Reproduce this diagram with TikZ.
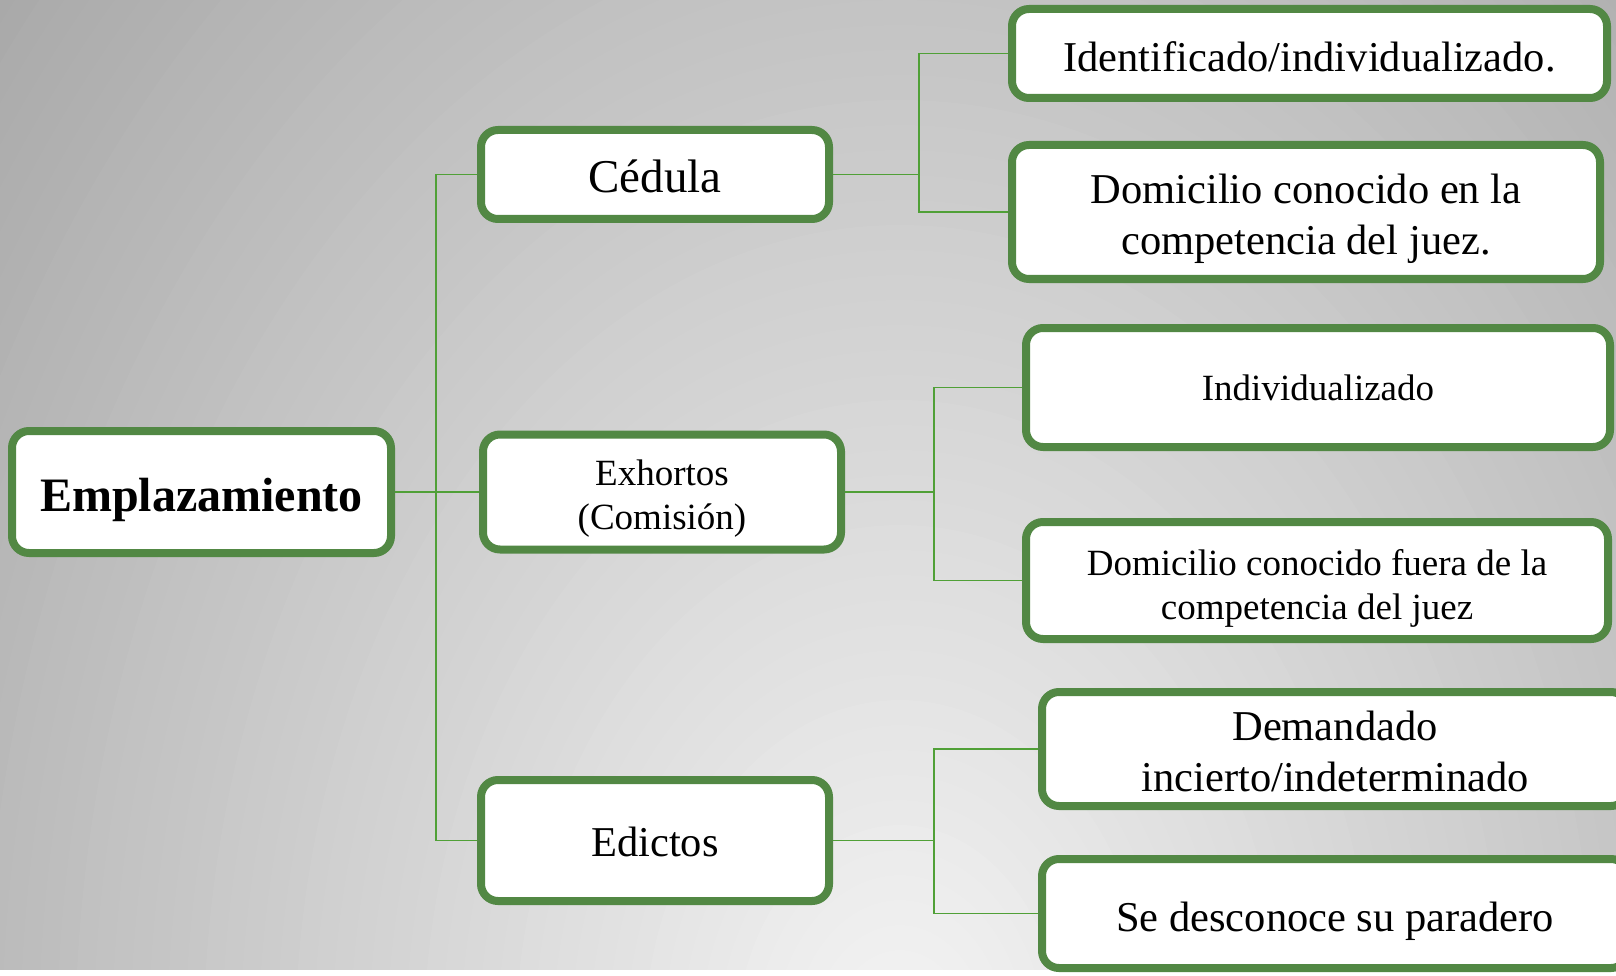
\documentclass[tikz,border=0pt]{standalone}
\usepackage{fontspec}
\setmainfont{Liberation Serif}
\definecolor{boxgreen}{RGB}{82,136,68}
\definecolor{lingreen}{RGB}{80,160,55}
\newcommand\padtop[2]{\raisebox{0pt}[\dimexpr\height+#1\relax][\depth]{#2}}
\tikzset{
  box/.style={draw=boxgreen, line width=8pt, fill=white, rounded corners=17pt, inner sep=0pt, align=center, text=black, text depth=0pt},
  conn/.style={draw=lingreen, line width=1.8pt},
  fA/.style={font=\fontsize{42.5}{51}\selectfont},
  fB/.style={font=\fontsize{37}{44}\selectfont},
}
\begin{document}
\begin{tikzpicture}[x=1pt,y=-1pt]
\useasboundingbox (0,0) rectangle (1616,976);
\fill[white] (0,0) rectangle (1616,976);
\begin{scope}
  \clip (0,0) rectangle (1616,969);
  \foreach \i in {72,...,1} {
    \pgfmathsetmacro\g{(245-70*\i/60)/255}
    \pgfmathsetmacro\rx{\i/60*1100}
    \pgfmathsetmacro\ry{\i/60*1500}
    \definecolor{bgc}{gray}{\g}
    \fill[bgc] (900,1050) ellipse [x radius=\rx pt, y radius=\ry pt];
  }
\end{scope}
\begin{scope}
  \clip (0,0) rectangle (1616,976);
  \node[box, minimum width=379pt, minimum height=122pt, font=\fontsize{48}{56}\selectfont\bfseries] (emp) at (201.5,492) {\padtop{6pt}{Emplazamiento}};
  \node[box, minimum width=348pt, minimum height=89pt, font=\fontsize{47}{56}\selectfont] (ced) at (655,174.5) {\padtop{4pt}{Cédula}};
  \node[box, fB, minimum width=358pt, minimum height=115pt] (exh) at (662,492) {\padtop{5pt}{Exhortos}\\(Comisión)};
  \node[box, fA, minimum width=348pt, minimum height=121pt] (edi) at (655,840.5) {\padtop{2pt}{Edictos}};
  \node[box, fA, minimum width=595pt, minimum height=89pt] (b1) at (1309.5,53.5) {\padtop{6pt}{Identificado/individualizado.}};
  \node[box, fA, minimum width=588pt, minimum height=134pt] (b2) at (1306,212) {\padtop{5pt}{Domicilio conocido en la}\\competencia del juez.};
  \node[box, fB, minimum width=584pt, minimum height=119pt] (b3) at (1318,387.5) {Individualizado};
  \node[box, fB, minimum width=582pt, minimum height=117pt] (b4) at (1317,580.5) {\padtop{8pt}{Domicilio conocido fuera de la}\\competencia del juez};
  \node[box, fA, minimum width=586pt, minimum height=114pt] (b5) at (1335,749) {\padtop{4pt}{Demandado}\\incierto/indeterminado};
  \node[box, fA, minimum width=586pt, minimum height=109pt] (b6) at (1335,913.5) {\padtop{6pt}{Se desconoce su paradero}};
  \coordinate (t) at (436,492);
  \coordinate (j1) at (919,174.5);
  \coordinate (j2) at (934,492);
  \coordinate (j3) at (934,840.5);
  \draw[conn] (emp.east) -- (exh.west);
  \draw[conn] (ced.west) -| (t) |- (edi.west);
  \draw[conn] (ced.east) -- (j1);
  \draw[conn] (b1.west) -| (j1) |- (b2.west);
  \draw[conn] (exh.east) -- (j2);
  \draw[conn] (b3.west) -| (j2) |- (b4.west);
  \draw[conn] (edi.east) -- (j3);
  \draw[conn] (b5.west) -| (j3) |- (b6.west);
\end{scope}
\end{tikzpicture}
\end{document}
